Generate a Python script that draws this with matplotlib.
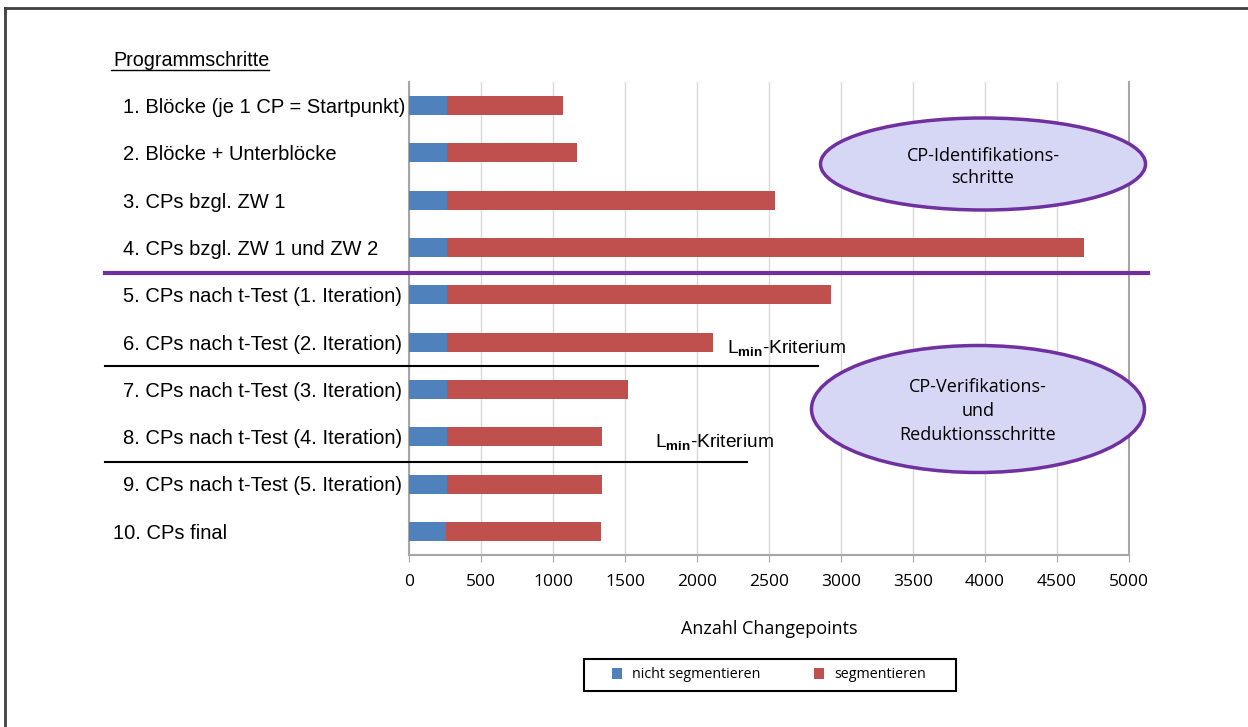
import matplotlib
matplotlib.use("Agg")
import matplotlib.pyplot as plt
import matplotlib.patches as patches
import matplotlib.transforms as mtransforms
import numpy as np

plt.rcParams["font.family"] = ["Liberation Sans", "DejaVu Sans"]
plt.rcParams["mathtext.fontset"] = "custom"
plt.rcParams["mathtext.rm"] = "Liberation Sans"
plt.rcParams["mathtext.bf"] = "Liberation Sans:bold"

# Programmschritte (top to bottom)
steps = [
    "1. Blöcke (je 1 CP = Startpunkt)",
    "2. Blöcke + Unterblöcke",
    "3. CPs bzgl. ZW 1",
    "4. CPs bzgl. ZW 1 und ZW 2",
    "5. CPs nach t-Test (1. Iteration)",
    "6. CPs nach t-Test (2. Iteration)",
    "7. CPs nach t-Test (3. Iteration)",
    "8. CPs nach t-Test (4. Iteration)",
    "9. CPs nach t-Test (5. Iteration)",
    "10. CPs final",
]
nicht_segmentieren = [265, 265, 265, 265, 265, 265, 265, 265, 265, 255]
segmentieren = [805, 902, 2277, 4423, 2666, 1846, 1256, 1075, 1078, 1078]
x_ticks = [0, 500, 1000, 1500, 2000, 2500, 3000, 3500, 4000, 4500, 5000]

BLUE = "#4F81BD"
RED = "#C0504D"
PURPLE = "#7030A0"
LAVENDER = "#D6D6F5"
W, H = 1248, 727

fig = plt.figure(figsize=(W / 100, H / 100), dpi=100)
ax = fig.add_axes([409 / W, 1 - 555 / H, 720 / W, 473 / H])

y = np.arange(len(steps))
ax.barh(y, nicht_segmentieren, height=0.4, color=BLUE, label="nicht segmentieren", zorder=3)
ax.barh(y, segmentieren, left=nicht_segmentieren, height=0.4, color=RED,
        label="segmentieren", zorder=3)

ax.set_xlim(0, 5000)
ax.set_ylim(len(steps) - 0.5, -0.5)
ax.set_xticks(x_ticks)
ax.set_xticklabels([str(t) for t in x_ticks], family="Open Sans", fontsize=12.5)
ax.set_yticks(y)
ax.set_yticklabels([])
ax.tick_params(axis="y", length=0)
ax.tick_params(axis="x", length=5, color="#A6A6A6", pad=9)
ax.grid(axis="x", color="#D9D9D9", lw=1, zorder=0)
ax.spines["top"].set_visible(False)
for s in ["left", "bottom", "right"]:
    ax.spines[s].set_color("#A6A6A6")
    ax.spines[s].set_linewidth(1.5)
ax.set_xlabel("Anzahl Changepoints", family="Open Sans", fontsize=13, labelpad=21)

# category labels, left aligned (x in figure pixels, y in data)
lab_tr = mtransforms.blended_transform_factory(
    mtransforms.Affine2D().scale(1 / W, 1) + fig.transFigure, ax.transData)
for yi, name in zip(y, steps):
    x0 = 113 if name.startswith("10") else 123
    ax.text(x0, yi + 0.04, name, transform=lab_tr, fontsize=14.5, ha="left", va="center",
            clip_on=False)

handles, labels = ax.get_legend_handles_labels()
leg = fig.legend(handles, labels, loc="center", bbox_to_anchor=(769 / W, 1 - 675 / H),
                 ncol=2, prop={"family": "Open Sans", "size": 10.3}, frameon=False,
                 handlelength=0.7, handleheight=0.7, handletextpad=0.7, columnspacing=3.7)

# overlay in pixel coordinates for annotations
ov = fig.add_axes([0, 0, 1, 1], zorder=5)
ov.set_xlim(0, W)
ov.set_ylim(H, 0)
ov.axis("off")
ov.patch.set_alpha(0)

# legend frame
ov.add_patch(patches.Rectangle((584, 659), 372, 32, facecolor="none", edgecolor="black", lw=1.5))

# outer frame (top and left)
ov.plot([5, W], [8, 8], color="#404040", lw=2)
ov.plot([5, 5], [8, H], color="#404040", lw=2)

ov.text(113, 60, "Programmschritte", fontsize=14.2, va="center", ha="left")
ov.plot([111, 269], [70, 70], color="black", lw=1)

ov.plot([105, 1148], [273, 273], color=PURPLE, lw=3)
ov.plot([105, 818], [366, 366], color="black", lw=1.5)
ov.plot([105, 747], [462, 462], color="black", lw=1.5)
ov.text(727, 349, r"L$_{\mathbf{min}}$-Kriterium", fontsize=13.8, va="center")
ov.text(655, 443, r"L$_{\mathbf{min}}$-Kriterium", fontsize=13.8, va="center")

ov.add_patch(patches.Ellipse((983, 164), 325, 92, facecolor=LAVENDER, edgecolor=PURPLE, lw=2.5))
ov.text(983, 167, "CP-Identifikations-\nschritte", family="Open Sans", fontsize=13,
        ha="center", va="center", linespacing=1.35)
ov.add_patch(patches.Ellipse((978, 409), 333, 127, facecolor=LAVENDER, edgecolor=PURPLE, lw=2.5))
ov.text(978, 411, "CP-Verifikations-\nund\nReduktionsschritte", family="Open Sans",
        fontsize=13, ha="center", va="center", linespacing=1.45)

fig.savefig("out.png", dpi=100)
